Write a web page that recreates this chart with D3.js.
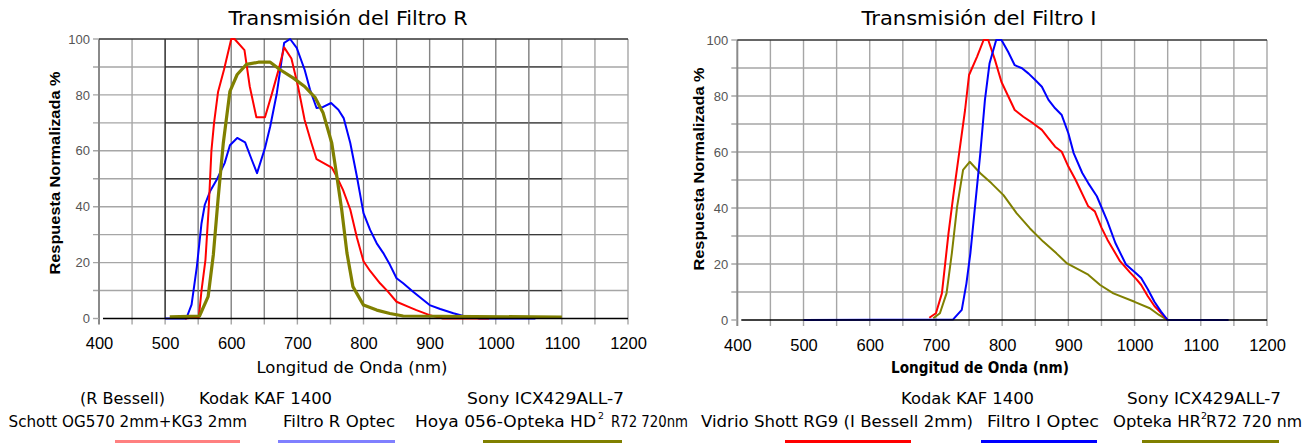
<!DOCTYPE html>
<html><head><meta charset="utf-8">
<script src="https://cdn.jsdelivr.net/npm/d3@7"></script>
<style>body{margin:0;background:#fff}svg{display:block}</style>
</head><body>
<svg id="c" width="1315" height="443"></svg>
<script>
// ---------- tick labels ----------
const xTicks = [400, 500, 600, 700, 800, 900, 1000, 1100, 1200];
const yTicks = [0, 20, 40, 60, 80, 100];
const xGrid = [450, 500, 550, 600, 650, 700, 750, 800, 850, 900, 950, 1000, 1050, 1100, 1150, 1200];
const yGrid = [10, 20, 30, 40, 50, 60, 70, 80, 90];
const yGridDark = [10, 30, 50, 70, 90];

// ---------- Filtro R (left) ----------
const rRedNm  = [530, 551, 555, 561, 566, 570, 574, 580, 589, 600, 605, 620, 628, 638, 651, 661, 671, 680, 691, 701, 711, 721, 729, 752, 759, 769, 780, 790, 800, 810, 825, 837, 850, 870, 880, 900, 920, 990];
const rRedVal = [0, 0.5, 10, 21, 40, 60, 70, 81, 89, 100, 100, 96, 83, 72, 72, 80, 88.5, 97, 93, 83, 71, 63, 57, 54, 51, 46, 39, 29, 20.5, 17, 12.6, 9.6, 6, 4, 3, 1.2, 0, 0];

const rBlueNm  = [500, 532, 540, 548, 555, 560, 568, 578, 590, 598, 609, 621, 631, 639, 651, 659, 669, 680, 689, 699, 711, 719, 729, 739, 751, 762, 770, 780, 790, 800, 810, 820, 830, 840, 850, 860, 875, 900, 916, 936, 951, 961, 975, 1060];
const rBlueVal = [0, 0, 5, 18.6, 34, 40.7, 45.5, 49.6, 55.6, 62, 64.6, 63, 56.8, 52, 61, 68.8, 80.7, 98.6, 100, 96.8, 89, 82, 75.3, 75.7, 77.1, 74.7, 71.7, 62.8, 50.8, 37.7, 31.7, 26.9, 23.4, 19.2, 14.4, 12.6, 9.6, 4.8, 3.4, 1.9, 0.9, 0.9, 0, 0];

const rOliveNm  = [507, 552, 565, 573, 580, 588, 598, 609, 623, 641, 659, 674, 694, 711, 727, 739, 752, 759, 767, 775, 784, 800, 820, 840, 860, 1100];
const rOliveVal = [0.6, 0.9, 7.8, 23, 42.5, 62.8, 81.3, 87.3, 90.9, 91.7, 91.7, 89, 86, 83, 79, 73.5, 62.8, 52, 39, 23.4, 11.4, 4.8, 3, 1.8, 0.9, 0.5];

// ---------- Filtro I (right) ----------
const iRedNm  = [690, 700, 709, 719, 726, 735, 744, 750, 762, 772, 779, 789, 799, 809, 819, 832, 847, 860, 870, 880, 890, 900, 911, 930, 940, 950, 959, 978, 993, 1003, 1010, 1020, 1030, 1040, 1050];
const iRedVal = [0.8, 2.4, 9.5, 31, 44, 59.5, 75, 87.5, 94, 100, 100, 93, 85, 80, 75, 72.6, 70.2, 67.9, 64.9, 61.9, 60.1, 54.8, 50, 40.6, 38.8, 33, 28.7, 21, 17, 14.5, 12.5, 8.5, 5, 2.5, 0];

const iBlueNm  = [500, 726, 739, 746, 752, 759, 767, 774, 781, 791, 799, 809, 819, 830, 840, 850, 860, 870, 880, 890, 900, 908, 921, 930, 943, 959, 971, 987, 1003, 1010, 1020, 1030, 1040, 1050, 1142];
const iBlueVal = [0, 0.2, 3.6, 13, 23.8, 40.5, 59.5, 78.6, 91.7, 100, 100, 95.8, 91, 89.9, 88, 85.7, 83.3, 78.6, 75.6, 73.2, 66.7, 59.6, 52.5, 48.9, 44.2, 35.2, 27.5, 19.8, 16.5, 15, 11, 6.5, 3, 0, 0];

const iOliveNm  = [696, 706, 716, 724, 732, 741, 751, 767, 784, 802, 822, 842, 862, 882, 898, 930, 948, 968, 1000, 1023, 1037, 1047];
const iOliveVal = [0.6, 2.4, 9.5, 23.8, 40.5, 53.6, 56.5, 52.4, 48.8, 44.6, 38.1, 32.7, 28, 23.8, 20.2, 16.2, 12.5, 9.5, 6.5, 4.2, 1.8, 0.4];

// ---------- texts ----------
const titles = ["Transmisión del Filtro R", "Transmisión del Filtro I"];
const xTitle = "Longitud de Onda (nm)";
const yTitle = "Respuesta Normalizada %";

const svg = d3.select('#c');
const zip = (a, b) => a.map((v, i) => [v, b[i]]);

function panel(o) {
  const x = d3.scaleLinear().domain([400, 1200]).range(o.xr);
  const y = d3.scaleLinear().domain([0, 100]).range(o.yr);
  const g = svg.append('g');
  const gray = '#a6a6a6';
  g.selectAll('.vg').data(xGrid).join('line')
    .attr('x1', d => x(d)).attr('x2', d => x(d))
    .attr('y1', y(100)).attr('y2', y(0) + 6)
    .attr('stroke', gray).attr('stroke-width', 1.4);
  g.selectAll('.hg').data(yGrid).join('line')
    .attr('x1', x(400) - 6).attr('x2', x(1200))
    .attr('y1', d => y(d)).attr('y2', d => y(d))
    .attr('stroke', gray).attr('stroke-width', 1.4);
  if (o.overlay) {
    g.selectAll('.hd').data(yGridDark).join('line')
      .attr('x1', x(500)).attr('x2', x(1100))
      .attr('y1', d => y(d)).attr('y2', d => y(d))
      .attr('stroke', '#3a3a3a').attr('stroke-width', 1.3);
    g.append('line').attr('x1', x(500)).attr('x2', x(500))
      .attr('y1', y(100)).attr('y2', y(0))
      .attr('stroke', '#222').attr('stroke-width', 1.2);
    g.selectAll('.vd').data(xGrid.filter(v => v > 500 && v <= 1050)).join('line')
      .attr('x1', d => x(d)).attr('x2', d => x(d))
      .attr('y1', y(100)).attr('y2', y(0))
      .attr('stroke', '#808080').attr('stroke-width', 1);
  }
  g.append('line').attr('x1', x(400)).attr('x2', x(400))
    .attr('y1', y(100)).attr('y2', y(0) + 6)
    .attr('stroke', '#8a8a8a').attr('stroke-width', 2);
  g.append('line').attr('x1', x(400) - 6).attr('x2', x(400))
    .attr('y1', y(0)).attr('y2', y(0)).attr('stroke', gray).attr('stroke-width', 1.4);
  g.append('line').attr('x1', x(400) - 6).attr('x2', x(400))
    .attr('y1', y(100)).attr('y2', y(100)).attr('stroke', gray).attr('stroke-width', 1.4);
  g.append('line').attr('x1', x(400)).attr('x2', x(1200))
    .attr('y1', y(100)).attr('y2', y(100))
    .attr('stroke', '#333').attr('stroke-width', 1.5);
  const line = d3.line().x(d => x(d[0])).y(d => y(d[1]));
  o.series.forEach(s => {
    g.append('path').datum(zip(s.nm, s.val)).attr('d', line)
      .attr('fill', 'none').attr('stroke', s.color).attr('stroke-width', s.w)
      .attr('stroke-linejoin', 'round');
  });
  g.append('line').attr('x1', x(400) + 4).attr('x2', x(1200))
    .attr('y1', y(0)).attr('y2', y(0))
    .attr('stroke', '#000').attr('stroke-width', 1.6);
  const ax = g.append('g').attr('transform', `translate(0,${y(0)})`)
    .call(d3.axisBottom(x).tickValues(xTicks).tickSize(0).tickPadding(19).tickFormat(d3.format('d')));
  ax.select('.domain').remove();
  ax.selectAll('text').attr('font-family', 'Liberation Sans, Arial, sans-serif')
    .attr('font-size', 16.5).attr('fill', '#000');
  const ay = g.append('g').attr('transform', `translate(${x(400)},0)`)
    .call(d3.axisLeft(y).tickValues(yTicks).tickSize(0).tickPadding(o.ypad));
  ay.select('.domain').remove();
  ay.selectAll('text').attr('font-family', 'Liberation Sans, Arial, sans-serif')
    .attr('font-size', 13).attr('fill', '#555');
  g.append('text').attr('x', o.tx).attr('y', 25).attr('text-anchor', 'middle')
    .attr('font-family', 'DejaVu Sans, sans-serif').attr('font-size', 19)
    .attr('textLength', o.tw).attr('lengthAdjust', 'spacingAndGlyphs')
    .attr('fill', '#000').text(o.title);
  g.append('text').attr('x', o.xtx).attr('y', 373).attr('text-anchor', 'middle')
    .attr('font-family', 'DejaVu Sans, sans-serif').attr('font-size', 15.5)
    .attr('font-weight', o.xbold ? 'bold' : 'normal')
    .attr('textLength', o.xtw).attr('lengthAdjust', 'spacingAndGlyphs')
    .attr('fill', '#000').text(xTitle);
  g.append('text').attr('transform', `translate(${o.ytx},${o.yty}) rotate(-90)`)
    .attr('text-anchor', 'middle').attr('dy', '0.35em')
    .attr('font-family', 'Liberation Sans, Arial, sans-serif').attr('font-size', 14)
    .attr('font-weight', 'bold')
    .attr('textLength', 203).attr('lengthAdjust', 'spacingAndGlyphs')
    .attr('fill', '#000').text(yTitle);
}

panel({
  xr: [99, 628], yr: [318.5, 39], overlay: true, ypad: 9,
  title: titles[0], tx: 348, tw: 239, xtx: 352, xtw: 191, xbold: false, ytx: 55, yty: 173,
  series: [
    {nm: rBlueNm, val: rBlueVal, color: '#0000ff', w: 2},
    {nm: rRedNm, val: rRedVal, color: '#ff0000', w: 2},
    {nm: rOliveNm, val: rOliveVal, color: '#808000', w: 3.2}
  ]
});
panel({
  xr: [737.3, 1267], yr: [320, 40], overlay: false, ypad: 9,
  title: titles[1], tx: 979, tw: 235, xtx: 980, xtw: 178, xbold: true, ytx: 699, yty: 169,
  series: [
    {nm: iOliveNm, val: iOliveVal, color: '#808000', w: 2},
    {nm: iRedNm, val: iRedVal, color: '#ff0000', w: 2},
    {nm: iBlueNm, val: iBlueVal, color: '#0000ff', w: 2}
  ]
});

// ---------- legends ----------
const legendLabels = [
  ["(R Bessell)", 80, 85, 1],
  ["Schott OG570 2mm+KG3 2mm", 8.5, 238.5, 2],
  ["Kodak KAF 1400", 199, 133, 1],
  ["Filtro R Optec", 283, 112, 2],
  ["Sony ICX429ALL-7", 467, 157, 1],
  ["Hoya 056-Opteka HD", 415, 181, 2],
  ["R72 720nm", 611, 77, 2],
  ["Vidrio Shott RG9 (I Bessell 2mm)", 701, 272, 2],
  ["Kodak KAF 1400", 901, 133, 1],
  ["Filtro I Optec", 987, 112, 2],
  ["Sony ICX429ALL-7", 1127, 154, 1],
  ["Opteka HR", 1113, 88, 2],
  ["R72 720 nm", 1206, 96, 2]
];
const legendSup = [[598, 604], [1201, 1207]];
const legendSwatches = [
  [115, 240, '#ff8080'], [278, 395, '#8080ff'], [483, 622, '#808000'],
  [785, 911, '#ff0000'], [981, 1097, '#0000ff'], [1142, 1279, '#808000']
];
const lg = svg.append('g').attr('font-family', 'DejaVu Sans, sans-serif').attr('fill', '#000');
lg.selectAll('text.l').data(legendLabels).join('text')
  .attr('x', d => d[1]).attr('y', d => d[3] === 1 ? 404 : 427)
  .attr('font-size', 15).attr('textLength', d => d[2]).attr('lengthAdjust', 'spacingAndGlyphs')
  .text(d => d[0]);
lg.selectAll('text.s').data(legendSup).join('text')
  .attr('x', d => d[0]).attr('y', 419).attr('font-size', 9)
  .attr('textLength', d => d[1] - d[0]).attr('lengthAdjust', 'spacingAndGlyphs')
  .text('2');
lg.selectAll('line').data(legendSwatches).join('line')
  .attr('x1', d => d[0]).attr('x2', d => d[1]).attr('y1', 441.5).attr('y2', 441.5)
  .attr('stroke', d => d[2]).attr('stroke-width', 3);
</script>
</body></html>
